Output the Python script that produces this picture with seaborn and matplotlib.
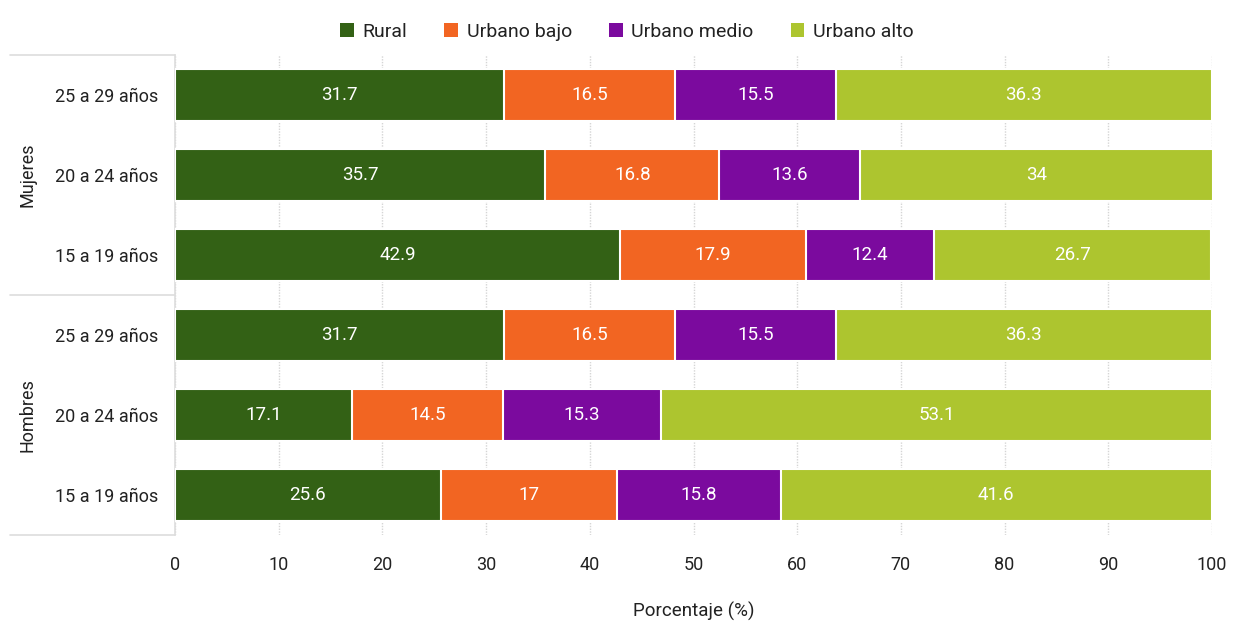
import seaborn as sns
import matplotlib.pyplot as plt
from matplotlib.patches import Patch
import pandas as pd
import numpy as np

# Datos (de arriba hacia abajo)
grupos = ["Mujeres", "Mujeres", "Mujeres", "Hombres", "Hombres", "Hombres"]
edades = ["25 a 29 años", "20 a 24 años", "15 a 19 años",
          "25 a 29 años", "20 a 24 años", "15 a 19 años"]
rural = [31.7, 35.7, 42.9, 31.7, 17.1, 25.6]
urbano_bajo = [16.5, 16.8, 17.9, 16.5, 14.5, 17]
urbano_medio = [15.5, 13.6, 12.4, 15.5, 15.3, 15.8]
urbano_alto = [36.3, 34, 26.7, 36.3, 53.1, 41.6]

series = ["Rural", "Urbano bajo", "Urbano medio", "Urbano alto"]
colores = ["#336115", "#F26522", "#7B0A9E", "#ADC52F"]

sns.set_style("white")
plt.rcParams['font.family'] = ['Roboto', 'DejaVu Sans']

filas = [f"{g}|{e}" for g, e in zip(grupos, edades)]
df = pd.DataFrame({"fila": filas, "Rural": rural, "Urbano bajo": urbano_bajo,
                   "Urbano medio": urbano_medio, "Urbano alto": urbano_alto})
acum = df[series].cumsum(axis=1)

fig = plt.figure(figsize=(12.54, 6.23), dpi=100)
ax = fig.add_axes([0.1396, 0.1413, 0.9665 - 0.1396, 0.9117 - 0.1413])

# Barras apiladas: se dibuja el acumulado, de la mas larga a la mas corta
for serie, color in reversed(list(zip(series, colores))):
    sns.barplot(x=acum[serie], y=df["fila"], orient="h", color=color,
                width=0.66, edgecolor="white", linewidth=1.5, ax=ax,
                saturation=1, zorder=3)

# Etiquetas de valor
for i in range(len(df)):
    izq = 0
    for serie in series:
        v = df.loc[i, serie]
        ax.text(izq + v / 2, i, f"{v:g}", ha="center", va="center",
                color="white", fontsize=13.5, zorder=4)
        izq += v

ax.set_xlim(0, 100)
ax.set_ylim(5.5, -0.5)
ax.set_xticks(np.arange(0, 101, 10))
ax.set_yticks(range(len(df)))
ax.set_yticklabels(edades)
ax.tick_params(axis="both", length=0, labelsize=13, colors="#222222")
ax.tick_params(axis="x", pad=15)
ax.tick_params(axis="y", pad=12)
ax.xaxis.grid(True, linestyle=(0, (1, 1)), color="#d5d5d5", linewidth=1, zorder=0)
ax.set_axisbelow(True)
ax.set_xlabel("Porcentaje (%)", fontsize=13.5, labelpad=20, color="#222222")
ax.set_ylabel("")
for s in ["top", "right", "bottom"]:
    ax.spines[s].set_visible(False)
ax.spines["left"].set_color("#dddddd")
ax.spines["left"].set_linewidth(1.2)

# Separadores de grupos y etiquetas de grupo
x0 = 10 / 1254
for yf in [0.9117, (0.9117 + 0.1413) / 2, 0.1413]:
    fig.add_artist(plt.Line2D([x0, 0.1396], [yf, yf], color="#dddddd", lw=1.2))
fig.text(27 / 1254, 1 - 175 / 623, "Mujeres", rotation=90, ha="center",
         va="center", fontsize=13, color="#222222")
fig.text(27 / 1254, 1 - 415 / 623, "Hombres", rotation=90, ha="center",
         va="center", fontsize=13, color="#222222")

# Leyenda
handles = [Patch(facecolor=c, edgecolor="none", label=s) for s, c in zip(series, colores)]
fig.legend(handles=handles, loc="center", bbox_to_anchor=(0.5, 1 - 32 / 623),
           ncol=4, frameon=False, fontsize=14, handlelength=0.7, handleheight=0.7,
           handletextpad=0.45, columnspacing=1.9, labelcolor="#222222")

fig.savefig("out.png", dpi=100)
